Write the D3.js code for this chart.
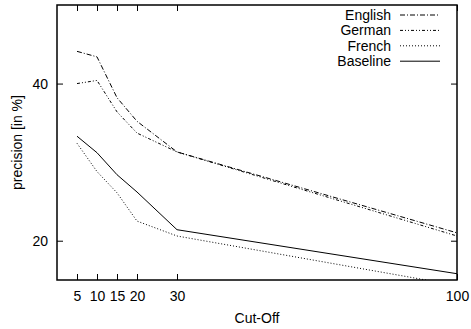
<!DOCTYPE html>
<html>
<head>
<meta charset="utf-8">
<script src="https://cdn.jsdelivr.net/npm/d3@7"></script>
<style>
  body { margin: 0; background: #fff; }
  text { font-family: "Liberation Sans", Arial, sans-serif; font-size: 14px; fill: #000; }
</style>
</head>
<body>
<svg id="chart" width="471" height="329"></svg>
<script>
// data
const cutoffs = [5, 10, 15, 20, 30, 100];
const english = [44.1, 43.4, 38.2, 35.2, 31.3, 21.0];
const german = [40.0, 40.4, 36.4, 33.7, 31.3, 20.6];
const french = [32.4, 28.8, 26.1, 22.5, 20.6, 14.3];
const baseline = [33.3, 31.2, 28.4, 26.2, 21.4, 15.8];
const yTicks = [20, 40];

const series = [
    { name: "English", values: english, dash: "5,2,1,2" },
    { name: "German", values: german, dash: "3,2,1,2,1,2" },
    { name: "French", values: french, dash: "1,2" },
    { name: "Baseline", values: baseline, dash: null }
];

const margin = { top: 5, right: 14, bottom: 49, left: 57 };
const width = 471 - margin.left - margin.right;
const height = 329 - margin.top - margin.bottom;

const svg = d3.select("#chart");
const g = svg.append("g")
    .attr("transform", `translate(${margin.left},${margin.top})`);

const x = d3.scaleLinear().domain([0, 100]).range([0, width]);
const y = d3.scaleLinear().domain([15, 50]).range([height, 0]);

svg.append("defs").append("clipPath")
    .attr("id", "clip")
    .append("rect")
    .attr("width", width)
    .attr("height", height);

// inward ticks on all four sides
const axisStyle = sel => {
    sel.select(".domain").remove();
    sel.selectAll("line").attr("stroke", "#000").attr("stroke-width", 1);
};

g.append("g")
    .attr("transform", `translate(0,${height})`)
    .call(d3.axisBottom(x).tickValues(cutoffs).tickSizeInner(-6).tickPadding(11))
    .call(axisStyle);
g.append("g")
    .call(d3.axisTop(x).tickValues(cutoffs).tickSizeInner(-6).tickFormat(""))
    .call(axisStyle);
g.append("g")
    .call(d3.axisLeft(y).tickValues(yTicks).tickSizeInner(-6).tickPadding(9))
    .call(axisStyle);
g.append("g")
    .attr("transform", `translate(${width},0)`)
    .call(d3.axisRight(y).tickValues(yTicks).tickSizeInner(-6).tickFormat(""))
    .call(axisStyle);

g.selectAll(".tick text")
    .style("font-family", "'Liberation Sans', Arial, sans-serif")
    .style("font-size", "14px");

g.append("rect")
    .attr("width", width)
    .attr("height", height)
    .attr("fill", "none")
    .attr("stroke", "#000")
    .attr("stroke-width", 1.5);

const line = d3.line()
    .x((d, i) => x(cutoffs[i]))
    .y(d => y(d));

g.append("g")
    .attr("clip-path", "url(#clip)")
    .selectAll("path")
    .data(series)
    .enter()
    .append("path")
    .attr("d", d => line(d.values))
    .attr("fill", "none")
    .attr("stroke", "#000")
    .attr("stroke-width", 1)
    .attr("stroke-dasharray", d => d.dash);

// legend
const legend = g.append("g")
    .attr("transform", `translate(${width - 57},10)`);

const item = legend.selectAll("g")
    .data(series)
    .enter()
    .append("g")
    .attr("transform", (d, i) => `translate(0,${i * 15.4})`);

item.append("text")
    .attr("x", -9)
    .attr("y", 5)
    .attr("text-anchor", "end")
    .text(d => d.name);

item.append("line")
    .attr("x1", 0)
    .attr("x2", 40)
    .attr("stroke", "#000")
    .attr("stroke-width", 1)
    .attr("stroke-dasharray", d => d.dash);

// axis titles
svg.append("text")
    .attr("x", margin.left + x(50))
    .attr("y", 323)
    .attr("text-anchor", "middle")
    .text("Cut-Off");

svg.append("text")
    .attr("transform", `translate(22,${margin.top + height / 2}) rotate(-90)`)
    .attr("text-anchor", "middle")
    .text("precision [in %]");
</script>
</body>
</html>
